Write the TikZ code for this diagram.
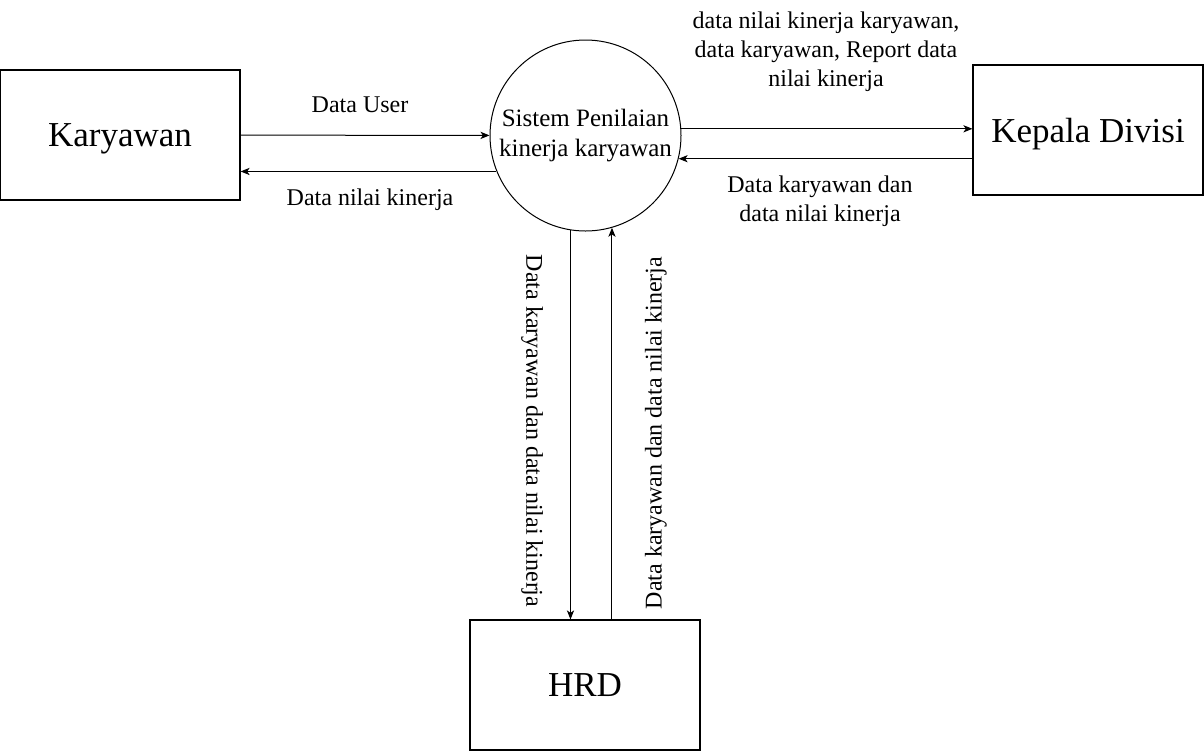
\documentclass[tikz,border=0pt]{standalone}
\usepackage{fontspec}
\setmainfont{Liberation Serif}
\usetikzlibrary{arrows.meta}

\begin{document}
\begin{tikzpicture}[->,>={Stealth[length=4.5pt,width=3.6pt,inset=1.2pt]},line width=0.5pt,x=0.5pt,y=-0.5pt]
    \tikzstyle{entity}=[draw=black, rectangle, line width=0.6pt, minimum width=115pt, minimum height=65pt, text depth=0pt, font=\fontsize{17.5}{21}\selectfont]
    \tikzstyle{proc}=[draw=black, circle, minimum size=95.5pt, inner sep=0pt, align=center, font=\fontsize{12.5}{15}\selectfont]
    \tikzstyle{lbl}=[align=center, font=\fontsize{12}{14.5}\selectfont]

    \useasboundingbox (0,0) rectangle (1204,751);

    \node[entity, minimum width=120pt] (kary) at (120,135) {Karyawan};
    \node[proc] (sys)  at (585.5,135.5) {Sistem Penilaian\\kinerja karyawan};
    \node[entity] (kep)  at (1088,130) {Kepala Divisi};
    \node[entity] (hrd)  at (585,685)  {HRD};

    \node[lbl] (lUser)  at (360,105) {Data User};
    \node[lbl] (lNilai) at (370,200) {Data nilai kinerja};
    \node[lbl] (lKep)   at (826,52)  {data nilai kinerja karyawan,\\data karyawan, Report data\\nilai kinerja};
    \node[lbl] (lBack)  at (820,201) {Data karyawan dan\\data nilai kinerja};
    \node[lbl, rotate=-90] (lDown) at (532,431) {Data karyawan dan data nilai kinerja};
    \node[lbl, rotate=90]  (lUp)   at (656,433) {Data karyawan dan data nilai kinerja};
%     \node[] (c) at (585,400) {};
    \path
     (kary) edge[] (sys)
     (sys.202) edge[] (kary.east |- sys.202)
     (sys.4) edge[] (kep.west |- sys.4)
     (kep.west |- sys.346) edge[] (sys.346)
     (sys.261) edge[] (sys.261 |- hrd.north)
     (sys.286 |- hrd.north) edge[] (sys.286)
     ;
\end{tikzpicture}
\end{document}
